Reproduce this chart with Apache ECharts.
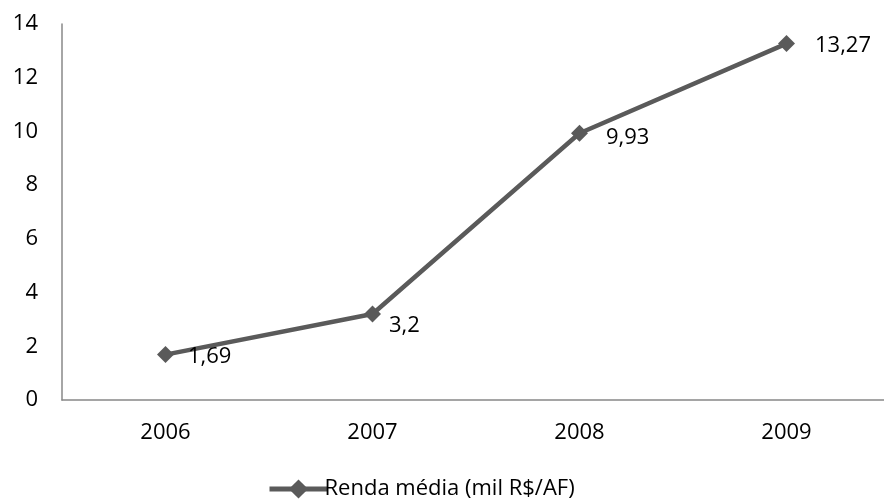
<!DOCTYPE html>
<html><head><meta charset="utf-8">
<script src="https://cdn.jsdelivr.net/npm/echarts@6/dist/echarts.min.js"></script>
<style>html,body{margin:0;padding:0;background:#fff}#c{width:884px;height:502px}</style>
</head><body><div id="c"></div>
<script>
var categories = ['2006', '2007', '2008', '2009'];
var rendaMedia = [1.69, 3.2, 9.93, 13.27];
var labelTexts = ['1,69', '3,2', '9,93', '13,27'];
var labelOffsets = [[0, 2], [-6, 12], [4, 4], [6, 2]];
var seriesName = 'Renda média (mil R$/AF)';
var yTicks = [0, 2, 4, 6, 8, 10, 12, 14];

var FONT = 'Open Sans';
var FS = 22;
var chart = echarts.init(document.getElementById('c'), null, {renderer: 'canvas'});
chart.setOption({
  animation: false,
  textStyle: {fontFamily: FONT},
  grid: {left: 62, width: 828, top: 24, bottom: 102, outerBoundsMode: 'none', containLabel: false},
  xAxis: {
    type: 'category', data: categories, boundaryGap: true,
    axisLine: {lineStyle: {color: '#888888', width: 1.5}},
    axisTick: {show: false},
    axisLabel: {color: '#000', fontSize: FS, fontFamily: FONT, margin: 22}
  },
  yAxis: {
    type: 'value', min: 0, max: 14, interval: 2,
    axisLine: {show: true, lineStyle: {color: '#888888', width: 1.5}},
    axisTick: {show: false},
    splitLine: {show: false},
    axisLabel: {color: '#000', fontSize: FS, fontFamily: FONT, margin: 24,
      formatter: function (v) { return yTicks.indexOf(v) >= 0 ? String(v) : ''; }}
  },
  legend: {
    bottom: -3, left: 262, itemWidth: 58, itemHeight: 24, itemGap: 0,
    lineStyle: {width: 5, color: '#5a5a5a'},
    textStyle: {color: '#000', fontSize: FS, fontFamily: FONT, padding: [0, 0, 0, -8]},
    data: [seriesName]
  },
  series: [{
    name: seriesName, type: 'line',
    data: rendaMedia.map(function (v, i) {
      return {value: v, label: {offset: labelOffsets[i]}};
    }),
    symbol: 'diamond', symbolSize: 17,
    lineStyle: {color: '#5a5a5a', width: 4.5},
    itemStyle: {color: '#5a5a5a'},
    label: {
      show: true, position: 'right', distance: 14, color: '#000', fontSize: FS, fontFamily: FONT,
      formatter: function (p) { return labelTexts[p.dataIndex]; }
    }
  }]
});
</script></body></html>
